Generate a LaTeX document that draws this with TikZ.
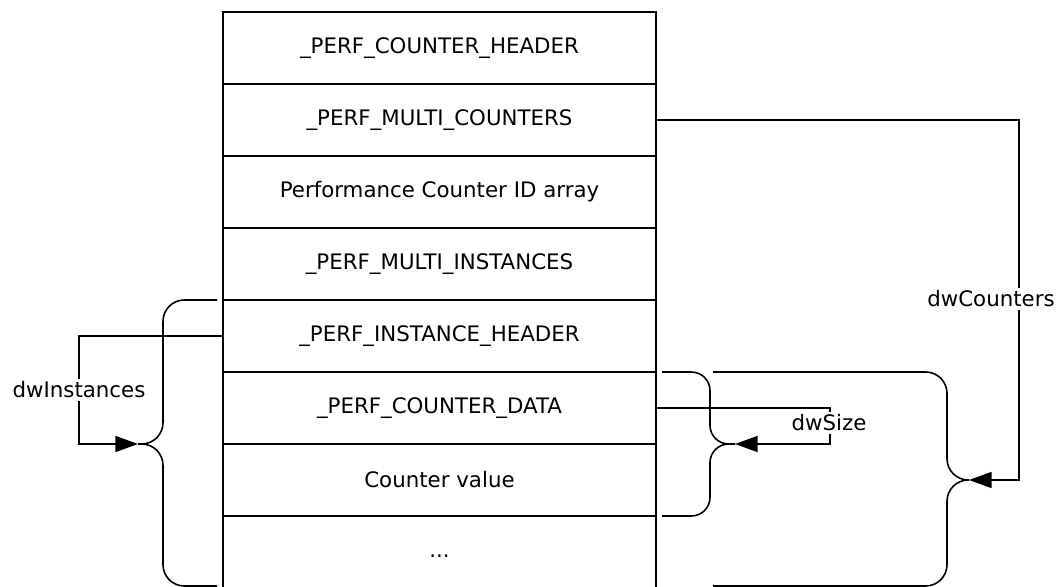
\documentclass[tikz,border=0pt]{standalone}
\usepackage{fontspec}
\setmainfont{DejaVu Sans}
\usetikzlibrary{positioning,arrows.meta}
\begin{document}
\begin{tikzpicture}[x=0.75pt,y=-0.75pt,line width=1.2pt,
    font=\fontsize{16}{19}\selectfont,
    row/.style={draw,minimum width=324.75pt,minimum height=54pt,outer sep=0pt,inner sep=0pt},
    brace/.style={rounded corners=16pt},
    arr/.style={-{Triangle[length=17pt,width=12pt]}},
    lbl/.style={fill=white,inner sep=2pt}]
  \useasboundingbox (0,0) rectangle (1064,586);
  % the stack of structures
  \node[row] (pch) at (439.5,48) {\_PERF\_COUNTER\_HEADER};
  \node[row,below=0pt of pch] (pmc) {\_PERF\_MULTI\_COUNTERS};
  \node[row,below=0pt of pmc] (ids) {Performance Counter ID array};
  \node[row,below=0pt of ids] (pmi) {\_PERF\_MULTI\_INSTANCES};
  \node[row,below=0pt of pmi] (pih) {\_PERF\_INSTANCE\_HEADER};
  \node[row,below=0pt of pih] (pcd) {\_PERF\_COUNTER\_DATA};
  \node[row,below=0pt of pcd] (cval) {Counter value};
  \node[row,draw=none,below=0pt of cval,yshift=-3pt] (more) {...};
  \draw (cval.south west) -- ++(0,72) (cval.south east) -- ++(0,72);
  % braces
  \coordinate (lbtip) at (138,444);
  \coordinate (mbtip) at (735,444);
  \coordinate (rbtip) at (969,480);
  \draw[brace] (lbtip) -| (163,300) -- (217,300);
  \draw[brace] (lbtip) -| (163,586) -- (217,586);
  \draw[brace,rounded corners=14pt] (mbtip) -| (710,372) -- (662,372);
  \draw[brace,rounded corners=14pt] (mbtip) -| (710,516) -- (662,516);
  \draw[brace] (rbtip) -| (947,372) -- (713,372);
  \draw[brace] (rbtip) -| (947,586) -- (713,586);
  % offsets
  \draw[arr] (pih.west) -- (79,336) |- (lbtip);
  \draw[arr] (pcd.east) -- (830,408) |- (mbtip);
  \draw[arr] (pmc.east) -- (1019,120) |- (rbtip);
  \node[lbl] (ninst) at (79,390) {dwInstances};
  \node[lbl] (nsize) at (829,423) {dwSize};
  \node[lbl] (ncnt) at (991,299) {dwCounters};
\end{tikzpicture}
\end{document}
